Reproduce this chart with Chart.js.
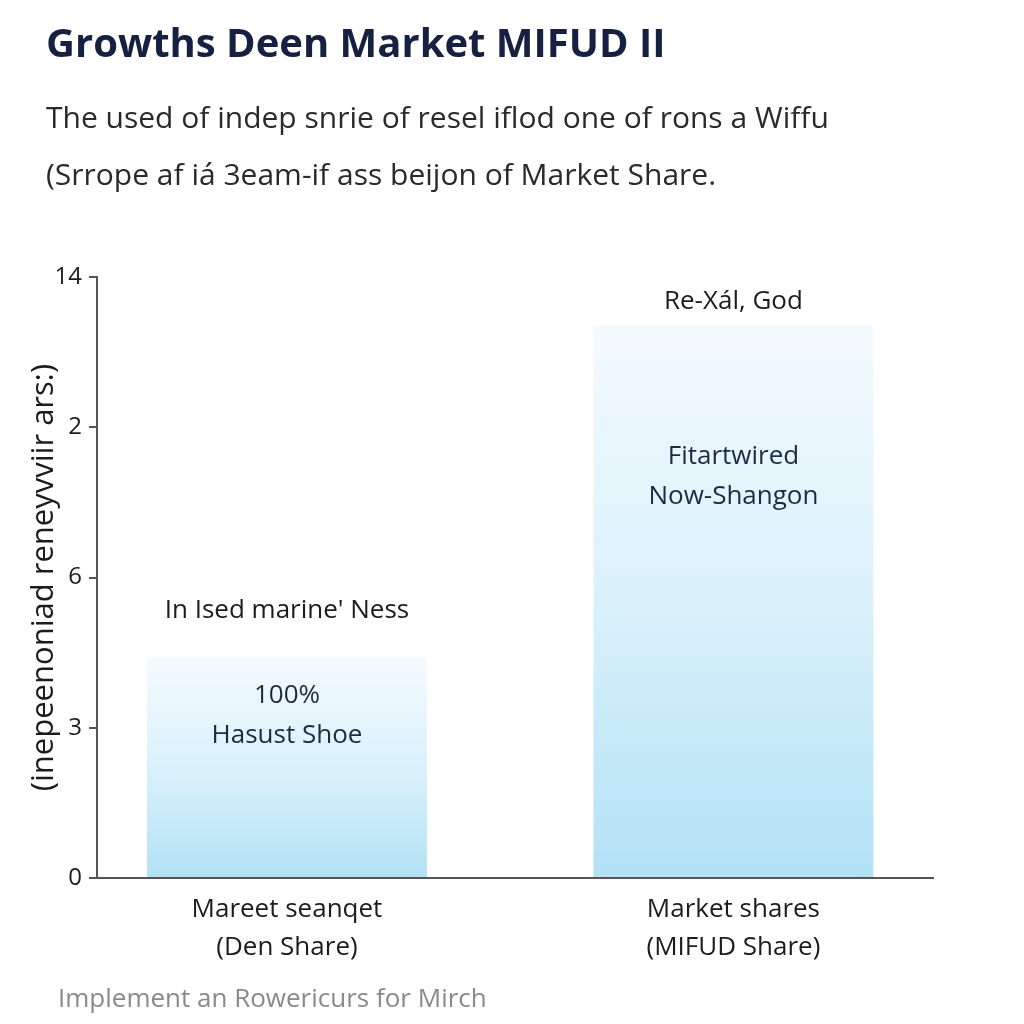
<!DOCTYPE html>
<html><head><meta charset="utf-8">
<script src="https://cdn.jsdelivr.net/npm/chart.js@4.4.1/dist/chart.umd.min.js"></script>
<style>html,body{margin:0;padding:0;background:#fff}#wrap{width:1024px;height:1024px;position:relative}</style>
</head><body><div id="wrap"><canvas id="c" width="1024" height="1024"></canvas></div>
<script>
const titleText = "Growths Deen Market MIFUD II";
const subtitleLines = ["The used of indep snrie of resel iflod one of rons a Wiffu", "(Srrope af iá 3eam-if ass beijon of Market Share."];
const footerText = "Implement an Rowericurs for Mirch";
const yAxisTitle = "(inepeenoniad reneyvviir ars:)";
const categories = [["Mareet seanqet", "(Den Share)"], ["Market shares", "(MIFUD Share)"]];
const values = [1.47, 3.68];
const yTickLabels = ["0", "3", "6", "2", "14"];
const aboveLabels = ["In Ised marine' Ness", "Re-Xál, God"];
const insideLabels = [["100%", "Hasust Shoe"], ["Fitartwired", "Now-Shangon"]];

const FONT = "'Open Sans', 'DejaVu Sans', sans-serif";
const aboveOffset = [47, 23];
const insideOffset = [38, 132];

const annot = {
  id: 'annot',
  afterDraw(chart) {
    const ctx = chart.ctx;
    const meta = chart.getDatasetMeta(0);
    ctx.save();
    ctx.textAlign = 'left';
    ctx.textBaseline = 'middle';
    ctx.fillStyle = '#162040';
    ctx.font = "bold 40px " + FONT;
    ctx.fillText(titleText, 46, 46);
    ctx.fillStyle = '#2a2a2a';
    ctx.font = "30px " + FONT;
    subtitleLines.forEach((l, i) => ctx.fillText(l, 46, 119 + i * 57));
    ctx.textAlign = 'center';
    ctx.font = "26px " + FONT;
    meta.data.forEach((bar, i) => {
      ctx.fillStyle = '#1c1c1c';
      ctx.fillText(aboveLabels[i], bar.x, bar.y - aboveOffset[i]);
      ctx.fillStyle = '#1d2a45';
      insideLabels[i].forEach((l, k) => ctx.fillText(l, bar.x, bar.y + insideOffset[i] + k * 40));
    });
    ctx.fillStyle = '#8a8a8a';
    ctx.textAlign = 'left';
    ctx.font = "26px " + FONT;
    ctx.fillText(footerText, 58, 1000);
    ctx.restore();
  }
};

new Chart(document.getElementById('c'), {
  type: 'bar',
  data: {
    datasets: [{
      data: values.map((v, i) => ({ x: i, y: v })),
      borderWidth: 0,
      backgroundColor(context) {
        const chart = context.chart;
        if (!chart.chartArea) return '#cdeefa';
        const ys = chart.scales.y;
        const top = ys.getPixelForValue(context.raw.y);
        const bottom = ys.getPixelForValue(0);
        const g = chart.ctx.createLinearGradient(0, top, 0, bottom);
        g.addColorStop(0, 'rgba(244,251,254,1)');
        g.addColorStop(0.5, 'rgba(218,241,251,1)');
        g.addColorStop(1, 'rgba(178,226,245,1)');
        return g;
      },
      barPercentage: 0.627,
      categoryPercentage: 1.0
    }]
  },
  options: {
    responsive: false,
    animation: false,
    layout: { padding: { left: 26, right: 91, top: 277, bottom: 45 } },
    plugins: {
      legend: { display: false },
      tooltip: { enabled: false },
      title: { display: false }
    },
    scales: {
      x: {
        type: 'linear',
        offset: false,
        bounds: 'data',
        min: -0.4255, max: 1.447,
        afterBuildTicks(scale) { scale.ticks = categories.map((c, i) => ({ value: i })); },
        grid: { display: false, drawTicks: false },
        border: { color: '#555', width: 2 },
        ticks: {
          autoSkip: false, maxRotation: 0,
          color: '#1c1c1c', font: { family: FONT, size: 26, lineHeight: 1.48 }, padding: 12,
          callback: (v) => categories[v]
        }
      },
      y: {
        min: 0, max: 4,
        afterFit(scale) { scale.width = 71; },
        grid: { display: true, drawOnChartArea: false, tickLength: 8, color: '#555', lineWidth: 2 },
        border: { color: '#555', width: 2 },
        ticks: { stepSize: 1, color: '#1c1c1c', font: { family: FONT, size: 24 }, padding: 7,
          callback: (v) => yTickLabels[v] },
        title: { display: true, text: yAxisTitle, color: '#1c1c1c', font: { family: FONT, size: 31 }, padding: { top: 0, bottom: 0 } }
      }
    }
  },
  plugins: [annot]
});
</script></body></html>
